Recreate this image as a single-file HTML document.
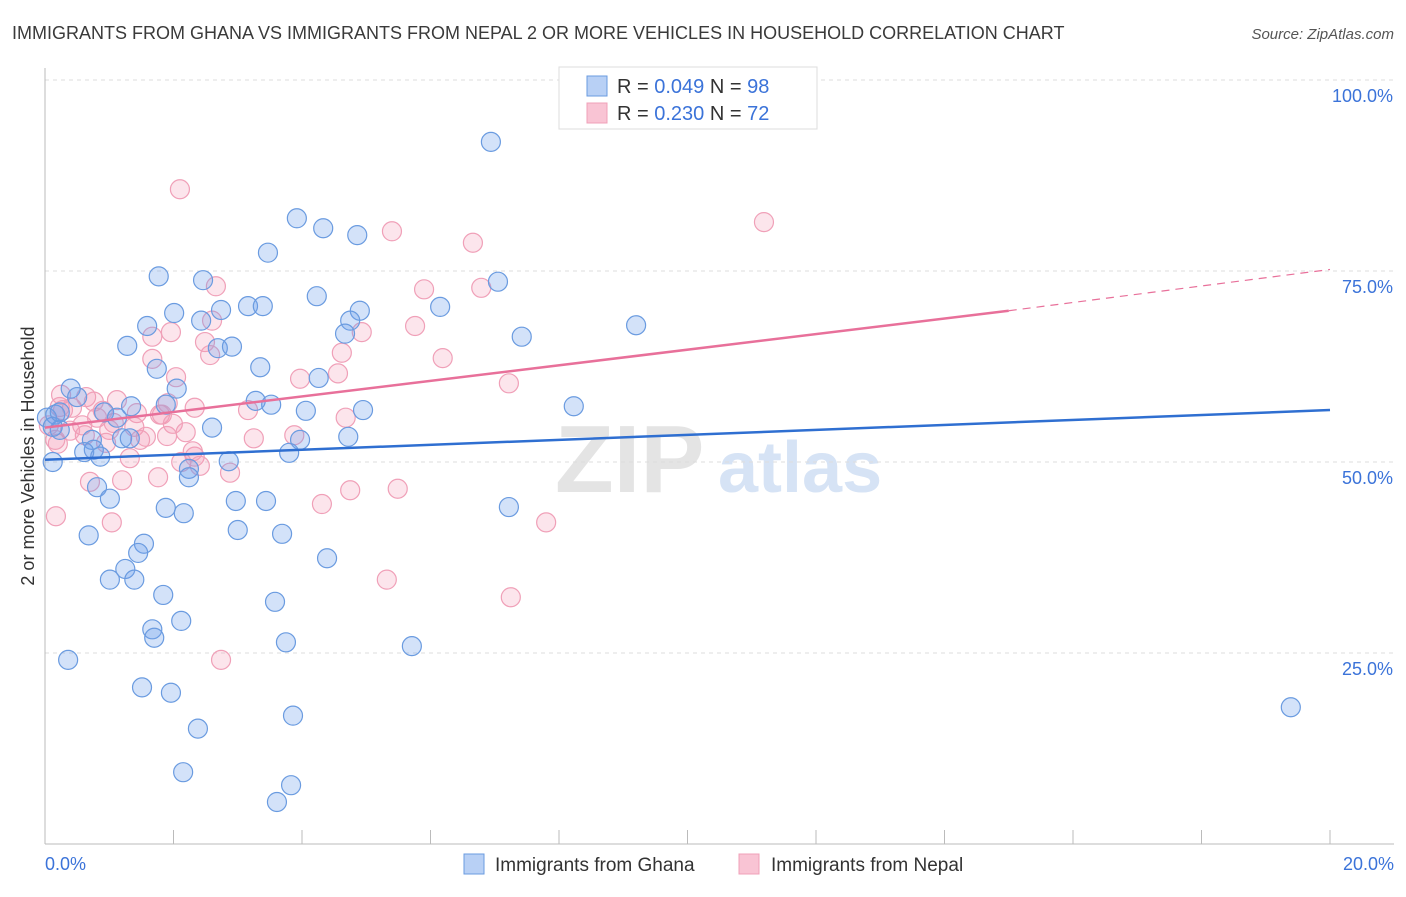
<!DOCTYPE html>
<html><head><meta charset="utf-8"><style>
body{margin:0;background:#fff;font-family:"Liberation Sans",sans-serif;}
svg text{font-family:"Liberation Sans",sans-serif;}
</style></head><body>
<svg id="c" width="1406" height="892" xmlns="http://www.w3.org/2000/svg">
<text x="12" y="39" font-size="18" fill="#3a3a3a">IMMIGRANTS FROM GHANA VS IMMIGRANTS FROM NEPAL 2 OR MORE VEHICLES IN HOUSEHOLD CORRELATION CHART</text>
<text x="1394" y="39" font-size="15" fill="#555" text-anchor="end" font-style="italic">Source: ZipAtlas.com</text>
<text x="555" y="492" font-size="96" fill="#e4e4e4" font-family="Liberation Serif" font-weight="bold">ZIP</text>
<text x="718" y="492" font-size="72" fill="#d6e3f5" font-weight="bold">atlas</text>
<text transform="translate(34,456) rotate(-90)" font-size="18" fill="#333" text-anchor="middle">2 or more Vehicles in Household</text>
<g id="grid"></g><g id="pts"></g><g id="lines"></g>
<g>
<rect x="559" y="67" width="258" height="62" fill="#fff" stroke="#ddd"/>
<rect x="587" y="76" width="20" height="20" fill="#b8d0f5" stroke="#6a9be0"/>
<text x="617" y="93" font-size="20" fill="#333">R = <tspan fill="#3b73d9">0.049</tspan>   N = <tspan fill="#3b73d9">98</tspan></text>
<rect x="587" y="103" width="20" height="20" fill="#f9c4d4" stroke="#f0a0b8"/>
<text x="617" y="120" font-size="20" fill="#333">R = <tspan fill="#3b73d9">0.230</tspan>   N = <tspan fill="#3b73d9">72</tspan></text>
</g>
<g>
<rect x="464" y="854" width="20" height="20" fill="#b8d0f5" stroke="#6a9be0"/>
<text x="495" y="871" font-size="19" fill="#333">Immigrants from Ghana</text>
<rect x="739" y="854" width="20" height="20" fill="#f9c4d4" stroke="#f0a0b8"/>
<text x="771" y="871" font-size="19" fill="#333">Immigrants from Nepal</text>
</g>
</svg>
<script>
const xTicks=[0,2,4,6,8,10,12,14,16,18,20];
const yTicks=[25,50,75,100];
const yTickLabels=["25.0%","50.0%","75.0%","100.0%"];
const ghanaPx=[[491,142],[297,218],[323,228],[357,235],[268,253],[159,276],[203,280],[498,282],[317,296],[248,306],[263,306],[221,310],[440,307],[360,311],[174,313],[201,321],[350,321],[147,326],[636,325],[345,334],[522,337],[127,346],[218,348],[232,347],[260,367],[157,369],[319,378],[71,389],[177,389],[77,397],[166,405],[256,401],[271,405],[131,406],[104,412],[117,418],[306,411],[363,410],[574,406],[55,415],[47,418],[60,430],[92,440],[122,438],[130,438],[212,428],[348,437],[300,440],[94,450],[84,452],[100,457],[53,462],[289,453],[229,461],[189,469],[189,477],[97,487],[236,501],[266,501],[110,499],[166,508],[184,513],[509,507],[238,530],[89,535],[282,534],[144,544],[138,553],[327,558],[125,569],[110,580],[134,580],[163,595],[275,602],[152,629],[181,621],[154,638],[286,642],[412,646],[68,660],[142,687],[171,693],[1291,707],[198,729],[293,716],[183,772],[291,785],[277,802],[53,427],[60,412]];
const nepalPx=[[180,189],[764,222],[392,231],[473,243],[216,286],[424,289],[481,288],[171,332],[415,326],[212,321],[205,342],[362,332],[152,359],[342,353],[443,358],[210,355],[152,337],[176,377],[338,373],[300,379],[509,383],[61,395],[86,397],[94,402],[60,407],[103,411],[72,408],[168,403],[195,408],[248,410],[137,413],[160,415],[114,423],[109,430],[82,425],[85,435],[134,427],[346,418],[162,415],[173,424],[294,435],[186,432],[254,438],[146,437],[106,443],[195,457],[193,451],[181,462],[200,466],[58,444],[130,458],[230,473],[158,477],[90,482],[122,480],[322,504],[350,490],[398,489],[546,522],[112,522],[56,516],[387,580],[511,597],[221,660],[63,410],[117,400],[97,418],[140,440],[167,436],[70,431],[55,440],[49,425]];
// convert read pixel positions to data values (x in %, y in %)
const ghanaX=ghanaPx.map(p=>+((p[0]-45)/1285*20).toFixed(2));
const ghanaY=ghanaPx.map(p=>+((844-p[1])/764*100).toFixed(1));
const nepalX=nepalPx.map(p=>+((p[0]-45)/1285*20).toFixed(2));
const nepalY=nepalPx.map(p=>+((844-p[1])/764*100).toFixed(1));
const ghanaTrend=[[0,50.3],[20,56.8]];
const nepalTrend=[[0,54.5],[15,69.8],[20,75.2]];
const X=v=>45+v/20*1285, Y=v=>844-v/100*764;
const NS="http://www.w3.org/2000/svg";
function mk(t,a,p){const e=document.createElementNS(NS,t);for(const k in a)e.setAttribute(k,a[k]);p.appendChild(e);return e;}
const g=document.getElementById('grid');
yTicks.forEach((v,i)=>{
 const l=mk('line',{x1:45,x2:1394,y1:Y(v),y2:Y(v),stroke:'#ddd','stroke-dasharray':'4,4'},g);
 
 
 const t=mk('text',{x:1393,y:Y(v)+22,'font-size':18,fill:'#3b73d9','text-anchor':'end'},g);t.textContent=yTickLabels[i];
 
 
});
const ax=mk('line',{x1:45,x2:45,y1:68,y2:844,stroke:'#bbb'},g);


const bx=mk('line',{x1:45,x2:1394,y1:844,y2:844,stroke:'#bbb'},g);


xTicks.forEach(v=>{const l=mk('line',{x1:X(v),x2:X(v),y1:830,y2:844,stroke:'#bbb'},g);
 
 });
[[0,'0.0%','start',45],[20,'20.0%','end',1394]].forEach(d=>{const t=mk('text',{x:d[3],y:870,'font-size':18,fill:'#3b73d9','text-anchor':d[2]},g);t.textContent=d[1];
 
 });
const P=document.getElementById('pts');
nepalX.forEach((x,i)=>{const c=mk('circle',{cx:X(x),cy:Y(nepalY[i]),r:9.5,fill:'rgba(244,150,180,0.25)',stroke:'#f0a0b8','stroke-width':1.2},P);
 
 });
ghanaX.forEach((x,i)=>{const c=mk('circle',{cx:X(x),cy:Y(ghanaY[i]),r:9.5,fill:'rgba(110,160,235,0.3)',stroke:'#6a9be0','stroke-width':1.2},P);
 
 });
const L=document.getElementById('lines');
const gl=mk('line',{x1:X(ghanaTrend[0][0]),y1:Y(ghanaTrend[0][1]),x2:X(ghanaTrend[1][0]),y2:Y(ghanaTrend[1][1]),stroke:'#2f6fd1','stroke-width':2.5},L);


const nl=mk('line',{x1:X(nepalTrend[0][0]),y1:Y(nepalTrend[0][1]),x2:X(nepalTrend[1][0]),y2:Y(nepalTrend[1][1]),stroke:'#e8709a','stroke-width':2.5},L);


const nd=mk('line',{x1:X(nepalTrend[1][0]),y1:Y(nepalTrend[1][1]),x2:X(nepalTrend[2][0]),y2:Y(nepalTrend[2][1]),stroke:'#e8709a','stroke-width':1.2,'stroke-dasharray':'8,6'},L);


</script>
</body></html>
